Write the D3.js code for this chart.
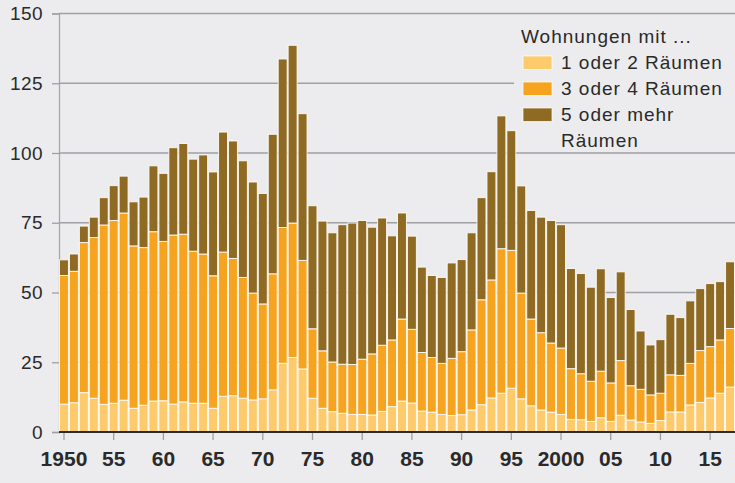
<!DOCTYPE html>
<html>
<head>
<meta charset="utf-8">
<script src="https://cdn.jsdelivr.net/npm/d3@7"></script>
<style>
  body { margin: 0; background: #ececee; }
  svg { display: block; font-family: "Liberation Sans", Arial, sans-serif; }
</style>
</head>
<body>
<script>
// Wohnungen nach Raumzahl, 1950-2017 (Tausend)
var years = d3.range(1950, 2018);

var small = [10.0,10.5,14.1,12.1,9.9,10.3,11.4,8.5,9.6,11.1,11.2,10.0,10.8,10.3,10.3,8.5,12.8,13.0,12.1,11.5,
  11.9,15.1,24.6,26.7,22.6,12.1,8.5,7.3,6.7,6.3,6.3,6.1,7.4,9.1,11.1,10.4,7.5,7.1,6.3,5.9,
  6.2,7.9,9.8,12.2,13.9,15.7,11.9,9.4,7.9,7.1,6.3,4.5,4.4,3.8,5.1,3.8,6.0,4.3,3.6,3.1,
  4.1,7.2,7.2,9.7,10.6,12.2,13.9,16.1];

var medium = [46.1,47.1,53.8,57.6,64.3,65.5,67.1,58.2,56.5,60.7,57.1,60.6,60.1,54.5,53.5,47.5,51.7,49.2,43.3,38.3,
  34.0,41.6,48.7,48.2,38.9,24.9,20.6,17.8,17.6,17.9,19.8,21.9,23.7,23.9,29.4,26.4,21.0,19.6,18.3,20.5,
  22.6,28.7,37.6,42.3,51.8,49.4,37.9,31.1,27.7,24.8,23.8,18.2,16.5,14.4,16.7,13.8,19.6,12.3,11.7,10.2,
  9.8,13.3,13.1,14.9,18.6,18.4,19.1,21.0];

var large = [5.6,6.2,5.9,7.3,9.8,12.5,13.2,15.8,18.1,23.6,24.4,31.3,32.5,33.0,35.5,37.2,43.0,42.1,41.8,39.8,
  39.6,50.0,60.4,63.7,52.6,44.1,46.5,46.3,50.0,50.7,49.7,45.4,45.6,37.3,38.0,33.4,30.6,29.4,30.8,34.2,
  33.0,34.8,36.6,38.8,47.6,42.9,38.4,38.9,41.4,43.9,44.2,35.9,35.9,33.7,36.7,30.6,31.8,27.3,20.9,17.9,
  19.2,21.7,20.7,22.4,22.2,22.6,20.9,23.9];

var keys = ["small", "medium", "large"];
var legendLabels = [["1 oder 2 Räumen"], ["3 oder 4 Räumen"], ["5 oder mehr", "Räumen"]];
var legendTitle = "Wohnungen mit ...";
var yTicks = [0, 25, 50, 75, 100, 125, 150];
var xTicks = [1950, 1955, 1960, 1965, 1970, 1975, 1980, 1985, 1990, 1995, 2000, 2005, 2010, 2015];
var colors = {small: "#fdca6c", medium: "#f6a41f", large: "#8f6a23"};

var W = 735, H = 483;
var plotL = 59, plotR = 735, plotT = 13.5, plotB = 432;

var table = years.map(function(y, i) {
  return {year: y, small: small[i], medium: medium[i], large: large[i]};
});
var stacked = d3.stack().keys(keys)(table);

var x = d3.scaleBand().domain(years).range([plotL, plotR]).padding(0);
var y = d3.scaleLinear().domain([0, 150]).range([plotB, plotT]);

var svg = d3.select("body").append("svg")
  .attr("width", W)
  .attr("height", H);

svg.append("rect").attr("width", W).attr("height", H).attr("fill", "#ececee");

// gridlines + y labels
var yAxis = svg.append("g")
  .attr("transform", "translate(" + plotL + ",0)")
  .call(d3.axisLeft(y).tickValues(yTicks).tickSize(7).tickPadding(9));
yAxis.select(".domain").attr("stroke", "#a8a8ac").attr("stroke-width", 1.3);
yAxis.selectAll(".tick line").attr("stroke", "#a0a0a4").attr("stroke-width", 1.3);
yAxis.selectAll(".tick text")
  .attr("font-size", "19px").attr("fill", "#2a2a2a")
  .attr("letter-spacing", "0.4px")
  .attr("font-family", "Liberation Sans, Arial, sans-serif");

svg.append("g")
  .selectAll("line")
  .data(yTicks.filter(function(d) { return d > 0; }))
  .enter().append("line")
  .attr("x1", plotL).attr("x2", W)
  .attr("y1", function(d) { return y(d); })
  .attr("y2", function(d) { return y(d); })
  .attr("stroke", "#a0a0a4")
  .attr("stroke-width", 1.3);

// legend backdrop hides the gridlines behind it
svg.append("rect")
  .attr("x", 514).attr("y", 20).attr("width", W - 514).attr("height", 130)
  .attr("fill", "#ececee");

// bars
svg.append("g")
  .selectAll("g")
  .data(stacked)
  .enter().append("g")
  .attr("fill", function(d) { return colors[d.key]; })
  .selectAll("rect")
  .data(function(d) { return d; })
  .enter().append("rect")
  .attr("x", function(d) { return x(d.data.year) + 0.5; })
  .attr("width", x.bandwidth() - 1)
  .attr("y", function(d) { return y(d[1]); })
  .attr("height", function(d) { return y(d[0]) - y(d[1]); })
  .attr("stroke", "#ffffff")
  .attr("stroke-opacity", 0.85)
  .attr("stroke-width", 1);

// x axis
var xAxis = svg.append("g")
  .attr("transform", "translate(0," + plotB + ")")
  .call(d3.axisBottom(x).tickValues(xTicks).tickSize(8).tickPadding(11)
    .tickFormat(function(d) {
      if (d === 1950 || d === 2000) return String(d);
      return String(d).slice(2);
    }));
xAxis.select(".domain").remove();
xAxis.selectAll(".tick line").attr("stroke", "#a0a0a4").attr("stroke-width", 1.3);
xAxis.selectAll(".tick text")
  .attr("font-size", "21px").attr("font-weight", "bold").attr("fill", "#2a2a2a")
  .attr("font-family", "Liberation Sans, Arial, sans-serif");

svg.append("line")
  .attr("x1", plotL).attr("x2", W)
  .attr("y1", plotB).attr("y2", plotB)
  .attr("stroke", "#2b2b2b").attr("stroke-width", 2);

// legend
var lg = svg.append("g").attr("font-size", "19px").attr("letter-spacing", "1px").attr("fill", "#2a2a2a");
lg.append("text").attr("x", 521).attr("y", 42.5).text(legendTitle);
keys.forEach(function(k, i) {
  var yy = 56 + i * 26;
  lg.append("rect")
    .attr("x", 523).attr("y", yy).attr("width", 29).attr("height", 13.5)
    .attr("fill", colors[k]).attr("stroke", "#ffffff").attr("stroke-opacity", 0.7);
  legendLabels[i].forEach(function(t, j) {
    lg.append("text").attr("x", 561).attr("y", yy + 13.3 + j * 25.5).text(t);
  });
});
</script>
</body>
</html>
